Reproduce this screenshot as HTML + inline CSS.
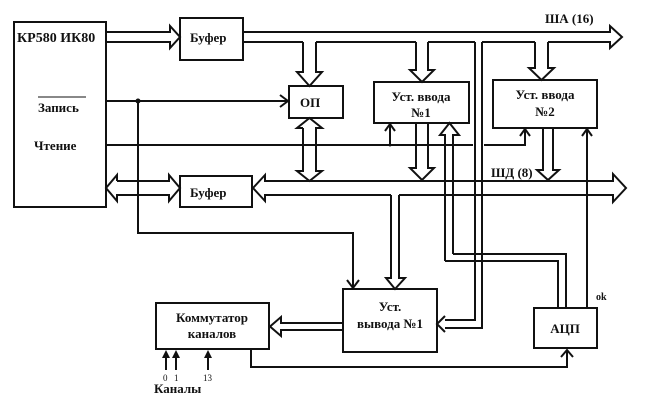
<!DOCTYPE html>
<html><head><meta charset="utf-8"><style>
html,body{margin:0;padding:0;background:#fff;}
svg{display:block;}
text{font-family:"Liberation Serif",serif;font-weight:bold;fill:#111;}
</style></head><body>
<svg width="661" height="408" viewBox="0 0 661 408" xmlns="http://www.w3.org/2000/svg">
<g fill="none" stroke="#111" stroke-width="2">
<rect x="14" y="22" width="92" height="185" fill="#fff"/>
<rect x="180" y="18" width="63" height="42" fill="#fff"/>
<rect x="289" y="86" width="54" height="32" fill="#fff"/>
<rect x="374" y="82" width="95" height="41" fill="#fff"/>
<rect x="493" y="80" width="104" height="48" fill="#fff"/>
<rect x="180" y="176" width="72" height="31" fill="#fff"/>
<rect x="343" y="289" width="94" height="63" fill="#fff"/>
<rect x="156" y="303" width="113" height="46" fill="#fff"/>
<rect x="534" y="308" width="63" height="40" fill="#fff"/>

<polyline points="106,32 170,32 170,26 180,37 170,48 170,42 106,42"/>
<polyline points="243,32 610,32 610,26 622,37 610,48 610,42 548,42"/>
<line x1="535" y1="42" x2="482" y2="42"/>
<line x1="475" y1="42" x2="428" y2="42"/>
<line x1="416" y1="42" x2="316" y2="42"/>
<line x1="303" y1="42" x2="243" y2="42"/>
<polyline points="303,42 303,72 297,72 309.5,86 322,72 316,72 316,42"/>
<polyline points="416,42 416,70 410,70 422,82 434,70 428,70 428,42"/>
<polyline points="535,42 535,68 529,68 541.5,80 554,68 548,68 548,42"/>
<polyline points="475,42 475,320 445,320"/>
<polyline points="482,42 482,328 445,328"/>
<polyline points="445,316 437,324 445,332"/>
<line x1="106" y1="101" x2="288" y2="101"/>
<polyline points="280,95 288,101 280,107"/>
<polyline points="138,101 138,233 353,233 353,288"/>
<polyline points="347,280 353,288 359,280"/>
<line x1="106" y1="145" x2="473" y2="145"/>
<line x1="390" y1="145" x2="390" y2="124"/>
<polyline points="385,131 390,124 395,131"/>
<polyline points="484,145 525,145 525,129"/>
<polyline points="520,136 525,129 530,136"/>
<polyline points="303,128 297,128 309.5,118 322,128 316,128 316,171 322,171 309.5,181 297,171 303,171 303,128"/>
<polyline points="416,123 416,168 410,168 422,180 434,168 428,168 428,123"/>
<polyline points="543,128 543,170 537,170 548,180 559,170 553,170 553,128"/>
<polyline points="445,261 445,135 440,135 449.5,123 459,135 453,135 453,254"/>
<polyline points="445,261 558,261 558,308"/>
<polyline points="453,254 566,254 566,308"/>
<line x1="587" y1="129" x2="587" y2="308"/>
<polyline points="582,136 587,129 592,136"/>
<polyline points="391,195 265,195 265,201 253,188 265,175 265,181 613,181 613,174 626,188 613,202 613,195 399,195"/>
<polyline points="391,195 391,278 386,278 395,289 405,278 399,278 399,195"/>
<polyline points="117,181 169,181 169,175 180,188 169,201 169,195 117,195 117,201 106,188 117,175 117,181"/>
<polyline points="343,323 281,323 281,317 270,326.5 281,336 281,330 343,330"/>
<polyline points="251,349 251,367 567,367 567,350"/>
<polyline points="561,357 567,350 573,357"/>
<line x1="166" y1="370" x2="166" y2="352"/>
<line x1="176" y1="370" x2="176" y2="352"/>
<line x1="208" y1="370" x2="208" y2="352"/>
</g>
<g fill="#111">
<polygon points="162,358 166,350 170,358"/>
<polygon points="172,358 176,350 180,358"/>
<polygon points="204,358 208,350 212,358"/>
<circle cx="138" cy="101" r="2.5"/>
<circle cx="390" cy="145" r="1.5"/>
</g>
<line x1="38" y1="97" x2="86" y2="97" stroke="#111" stroke-width="1"/>
<text x="17" y="42" font-size="14">КР580 ИК80</text>
<text x="38" y="112" font-size="13">Запись</text>
<text x="34" y="150" font-size="13">Чтение</text>
<text x="190" y="42" font-size="13">Буфер</text>
<text x="190" y="197" font-size="13">Буфер</text>
<text x="300" y="107" font-size="13">ОП</text>
<text x="421" y="101" font-size="13" text-anchor="middle">Уст. ввода</text>
<text x="421" y="117" font-size="13" text-anchor="middle">№1</text>
<text x="545" y="99" font-size="13" text-anchor="middle">Уст. ввода</text>
<text x="545" y="116" font-size="13" text-anchor="middle">№2</text>
<text x="545" y="23" font-size="13">ША (16)</text>
<text x="491" y="177" font-size="13">ШД (8)</text>
<text x="390" y="311" font-size="13" text-anchor="middle">Уст.</text>
<text x="390" y="328" font-size="13" text-anchor="middle">вывода №1</text>
<text x="212" y="322" font-size="13" text-anchor="middle">Коммутатор</text>
<text x="212" y="338" font-size="13" text-anchor="middle">каналов</text>
<text x="565" y="333" font-size="13" text-anchor="middle">АЦП</text>
<text x="596" y="300" font-size="10">ok</text>
<text x="163" y="381" font-size="9" style="font-weight:normal">0</text>
<text x="174" y="381" font-size="9" style="font-weight:normal">1</text>
<text x="203" y="381" font-size="9" style="font-weight:normal">13</text>
<text x="154" y="393" font-size="13">Каналы</text>
</svg>
</body></html>
